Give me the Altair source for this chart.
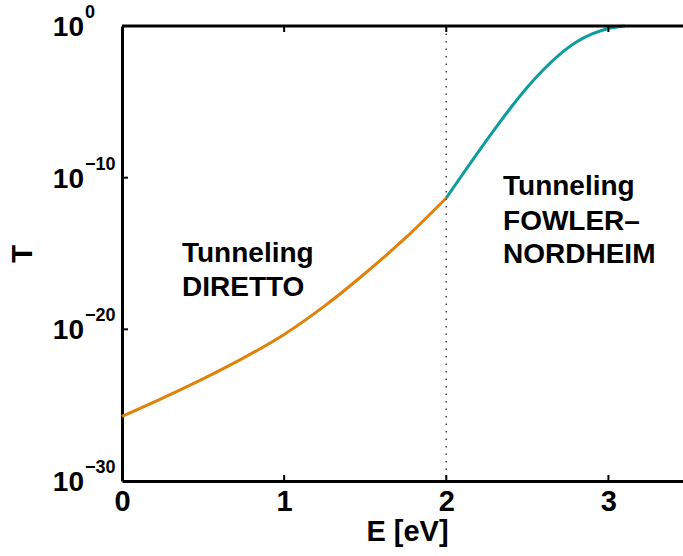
import altair as alt
import pandas as pd

# ---- data ----
E_direct = [0.0, 0.25, 0.5, 0.75, 1.0, 1.25, 1.5, 1.75, 2.0]
T_direct = [1.8e-26, 2.9e-25, 5.4e-24, 1.3e-22, 4.6e-21, 3.5e-19, 5.0e-17, 1.1e-14, 4.6e-12]

E_fn = [2.0, 2.1, 2.2, 2.3, 2.4, 2.5, 2.6, 2.7, 2.8, 2.9, 3.0, 3.1]
T_fn = [4.6e-12, 1.62e-10, 5.5e-9, 1.66e-7, 4.4e-6, 9.1e-5, 1.35e-3, 1.35e-2, 0.085, 0.30, 0.68, 1.0]

x_ticks = [0, 1, 2, 3]
x_inner_ticks = [1, 2, 3]
y_ticks = [1e0, 1e-10, 1e-20, 1e-30]
y_inner_ticks = [1e-10, 1e-20]
y_tick_base = ["10", "10", "10", "10"]
y_tick_exp = ["0", "\u221210", "\u221220", "\u221230"]

boundary_E = [2.0]

ann_text = ["Tunneling", "DIRETTO", "Tunneling", "FOWLER\u2013", "NORDHEIM"]
ann_E = [0.37, 0.37, 2.35, 2.35, 2.35]
ann_T = [2.9e-16, 1.6e-18, 7.2e-12, 3.5e-14, 2.4e-16]

# ---- layout ----
W, H = 561, 455
FONT = "Liberation Sans"
ORANGE = "#E0820A"
TEAL = "#0E9C9C"

xs = alt.Scale(domain=[0, 3.46], nice=False, zero=False)
ys = alt.Scale(type="log", domain=[1e-30, 1], nice=False)

x_axis = alt.Axis(
    values=x_ticks, format="d", ticks=False, grid=False,
    domainColor="black", domainWidth=3,
    labelFont=FONT, labelFontWeight="bold", labelFontSize=29, labelColor="black",
    labelPadding=6, labelFlush=False,
    title="E [eV]", titleFont=FONT, titleFontWeight="bold", titleFontSize=29,
    titleColor="black", titleX=285, titleY=59, titleBaseline="alphabetic",
)
y_axis = alt.Axis(
    labels=False, ticks=False, grid=False,
    domainColor="black", domainWidth=3,
    title="T", titleFont=FONT, titleFontWeight="bold", titleFontSize=29,
    titleColor="black", titleX=-100, titleY=H / 2, titleAngle=270,
    titleBaseline="middle", titleAlign="center",
)

curves = pd.DataFrame({
    "E": E_direct + E_fn,
    "T": T_direct + T_fn,
    "series": ["direct"] * len(E_direct) + ["fn"] * len(E_fn),
})

lines = alt.Chart(curves).mark_line(strokeWidth=3, interpolate="monotone", clip=False).encode(
    x=alt.X("E:Q", scale=xs, axis=x_axis),
    y=alt.Y("T:Q", scale=ys, axis=y_axis),
    color=alt.Color("series:N", scale=alt.Scale(domain=["direct", "fn"], range=[ORANGE, TEAL]), legend=None),
    order=alt.Order("E:Q"),
)

boundary = alt.Chart(pd.DataFrame({"E": boundary_E})).mark_rule(
    color="#444", strokeWidth=1.5, strokeDash=[1.5, 6]
).encode(x=alt.X("E:Q", scale=xs, axis=x_axis))

top_line = alt.Chart(pd.DataFrame({"T": [1.0]})).mark_rule(color="black", strokeWidth=3).encode(
    y=alt.Y("T:Q", scale=ys, axis=y_axis)
)

xt = pd.DataFrame({"E": x_inner_ticks})
xticks_bottom = alt.Chart(xt).mark_rule(color="black", strokeWidth=2).encode(
    x=alt.X("E:Q", scale=xs, axis=x_axis), y=alt.value(H), y2=alt.value(H - 6)
)
xticks_top = alt.Chart(xt).mark_rule(color="black", strokeWidth=2).encode(
    x=alt.X("E:Q", scale=xs, axis=x_axis), y=alt.value(0), y2=alt.value(6)
)
yticks_left = alt.Chart(pd.DataFrame({"T": y_inner_ticks})).mark_rule(color="black", strokeWidth=2).encode(
    y=alt.Y("T:Q", scale=ys, axis=y_axis), x=alt.value(0), x2=alt.value(6)
)

ylab = pd.DataFrame({"T": y_ticks, "base": y_tick_base, "exp": y_tick_exp})
ylab_base = alt.Chart(ylab).mark_text(
    font=FONT, fontWeight="bold", fontSize=28, color="black", align="right", baseline="alphabetic", dy=10
).encode(y=alt.Y("T:Q", scale=ys, axis=y_axis), x=alt.value(-38), text="base:N")
ylab_exp = alt.Chart(ylab).mark_text(
    font=FONT, fontWeight="bold", fontSize=18, color="black", align="left", baseline="alphabetic", dy=-8
).encode(y=alt.Y("T:Q", scale=ys, axis=y_axis), x=alt.value(-37), text="exp:N")

ann = pd.DataFrame({"E": ann_E, "T": ann_T, "text": ann_text})
annotations = alt.Chart(ann).mark_text(
    font=FONT, fontWeight="bold", fontSize=28, color="black", align="left", baseline="alphabetic"
).encode(x=alt.X("E:Q", scale=xs, axis=x_axis), y=alt.Y("T:Q", scale=ys, axis=y_axis), text="text:N")

chart = alt.layer(
    lines, boundary, top_line, xticks_bottom, xticks_top, yticks_left,
    ylab_base, ylab_exp, annotations,
).properties(
    width=W, height=H,
    autosize=alt.AutoSizeParams(type="none"),
    padding={"left": 122, "top": 26, "right": 0, "bottom": 75},
    background="white",
).configure_view(stroke=None)

chart.save("out.html", embed_options={"renderer": "svg", "actions": False})
